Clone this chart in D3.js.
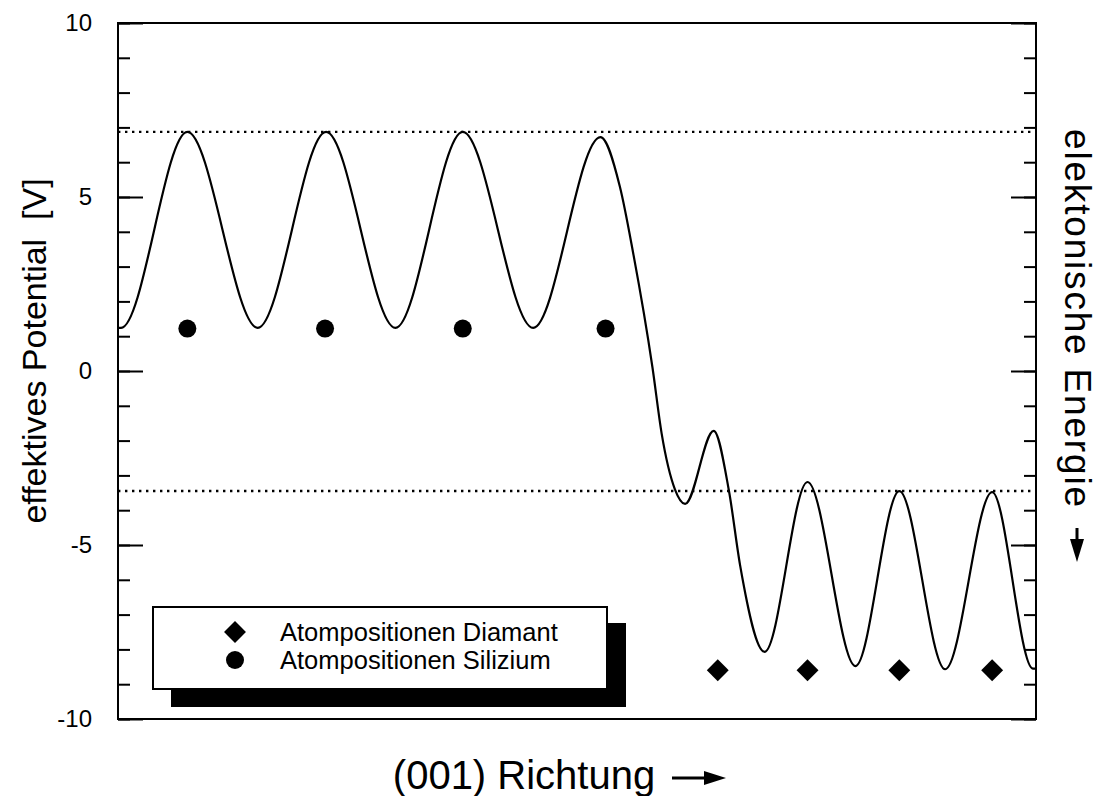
<!DOCTYPE html>
<html><head><meta charset="utf-8">
<script src="https://cdn.jsdelivr.net/npm/d3@7"></script>
<style>
  body { margin: 0; background: #fff; }
  text { font-family: "Liberation Sans", Arial, Helvetica, sans-serif; fill: #000; }
</style>
</head><body>
<svg id="chart" width="1098" height="796"></svg>
<script>
// Effective potential profile along the (001) direction (position in Å, potential in V)
const positionA = [0.00, 0.03, 0.68, 1.37, 2.04, 2.72, 3.38, 4.07, 4.73, 4.92, 5.05, 5.24, 5.33,
                   5.46, 5.56, 5.84, 5.99, 6.10, 6.34, 6.76, 7.23, 7.66, 8.11, 8.57, 8.97, 9.00];
const potentialV = [1.24, 1.24, 6.87, 1.24, 6.87, 1.24, 6.87, 1.24, 6.72, 5.30, 3.40, 0.10, -1.80,
                    -3.40, -3.82, -1.72, -3.45, -5.60, -8.07, -3.19, -8.48, -3.45, -8.57, -3.48, -8.55, -8.55];

// Atom positions
const siliconPos = [0.68, 2.03, 3.38, 4.78];
const siliconV = [1.22, 1.22, 1.22, 1.22];
const diamondPos = [5.88, 6.76, 7.66, 8.57];
const diamondV = [-8.6, -8.6, -8.6, -8.6];

// Dotted reference levels
const levelLines = [6.87, -3.45];

// Axis ticks
const majorTicks = [-10, -5, 0, 5, 10];
const minorTicks = [-10, -9, -8, -7, -6, -5, -4, -3, -2, -1, 0, 1, 2, 3, 4, 5, 6, 7, 8, 9, 10];
const legendLabels = ["Atompositionen Diamant", "Atompositionen Silizium"];

const svg = d3.select("#chart");
const plotLeft = 118, plotRight = 1036, plotTop = 23, plotBottom = 719;

const x = d3.scaleLinear().domain([0, 9]).range([plotLeft, plotRight]);
const y = d3.scaleLinear().domain([-10, 10]).range([plotBottom, plotTop]);

svg.append("rect").attr("width", 1098).attr("height", 796).attr("fill", "#fff");

// Reference levels
svg.append("g").selectAll("line").data(levelLines).join("line")
  .attr("x1", plotLeft).attr("x2", plotRight)
  .attr("y1", d => y(d)).attr("y2", d => y(d))
  .attr("stroke", "#000").attr("stroke-width", 2.4)
  .attr("stroke-dasharray", "2.4,4.6");

// Potential curve
const pts = positionA.map((p, i) => [p, potentialV[i]]);
svg.append("path")
  .datum(pts)
  .attr("fill", "none").attr("stroke", "#000").attr("stroke-width", 2.2)
  .attr("d", d3.line().x(d => x(d[0])).y(d => y(d[1])).curve(d3.curveMonotoneX));

// Silicon atoms
svg.append("g").selectAll("circle").data(siliconPos).join("circle")
  .attr("cx", d => x(d)).attr("cy", (d, i) => y(siliconV[i])).attr("r", 9)
  .attr("fill", "#000");

// Diamond atoms
const diamondSym = d3.symbol().type(d3.symbolSquare).size(240);
svg.append("g").selectAll("path").data(diamondPos).join("path")
  .attr("d", diamondSym)
  .attr("transform", (d, i) => `translate(${x(d)},${y(diamondV[i])}) rotate(45)`)
  .attr("fill", "#000");

// Axes with inward ticks on both sides
function addAxis(gen, xpos, ticks, size, labels) {
  const g = svg.append("g").attr("transform", `translate(${xpos},0)`)
    .call(gen(y).tickValues(ticks).tickSize(size).tickPadding(26)
      .tickFormat(labels ? (d => String(d)) : () => ""));
  g.select(".domain").remove();
  g.selectAll(".tick line").attr("stroke", "#000").attr("stroke-width", 2);
  g.selectAll(".tick text").attr("font-size", 24).style("font-family", "'Liberation Sans', Arial, sans-serif");
  return g;
}
addAxis(d3.axisLeft, plotLeft, minorTicks, -12, false);
addAxis(d3.axisLeft, plotLeft, majorTicks, -25, true);
addAxis(d3.axisRight, plotRight, minorTicks, -12, false);
addAxis(d3.axisRight, plotRight, majorTicks, -25, false);

// Frame
svg.append("rect").attr("x", plotLeft).attr("y", plotTop)
  .attr("width", plotRight - plotLeft).attr("height", plotBottom - plotTop)
  .attr("fill", "none").attr("stroke", "#000").attr("stroke-width", 2);

// Legend with drop shadow
const lg = svg.append("g");
lg.append("rect").attr("x", 171).attr("y", 623).attr("width", 455).attr("height", 84).attr("fill", "#000");
lg.append("rect").attr("x", 153).attr("y", 607).attr("width", 454).attr("height", 82)
  .attr("fill", "#fff").attr("stroke", "#000").attr("stroke-width", 2);
lg.append("path").attr("d", diamondSym).attr("transform", "translate(235,632) rotate(45)").attr("fill", "#000");
lg.append("circle").attr("cx", 235).attr("cy", 660).attr("r", 9).attr("fill", "#000");
lg.selectAll("text").data(legendLabels).join("text")
  .attr("x", 280).attr("y", (d, i) => 632 + i * 28).attr("dy", "0.35em")
  .attr("font-size", 25.5).text(d => d);

// Axis titles
svg.append("text").attr("transform", "translate(46,351) rotate(-90)")
  .attr("text-anchor", "middle").attr("font-size", 34).attr("xml:space", "preserve")
  .text("effektives Potential  [V]");

svg.append("text").attr("x", 524).attr("y", 789)
  .attr("text-anchor", "middle").attr("font-size", 40)
  .text("(001) Richtung");

// Arrow after the horizontal title
svg.append("line").attr("x1", 672).attr("x2", 710).attr("y1", 778).attr("y2", 778)
  .attr("stroke", "#000").attr("stroke-width", 3);
svg.append("path").attr("d", "M704,771 L726,778 L704,785 Z").attr("fill", "#000");

svg.append("text").attr("transform", "translate(1065,318) rotate(90)")
  .attr("text-anchor", "middle").attr("font-size", 37)
  .attr("textLength", 378).attr("lengthAdjust", "spacing")
  .text("elektonische Energie");

// Arrow below the right title
svg.append("line").attr("x1", 1077).attr("x2", 1077).attr("y1", 528).attr("y2", 546)
  .attr("stroke", "#000").attr("stroke-width", 3);
svg.append("path").attr("d", "M1070,539 L1077,562 L1084,539 Z").attr("fill", "#000");
</script>
</body></html>
